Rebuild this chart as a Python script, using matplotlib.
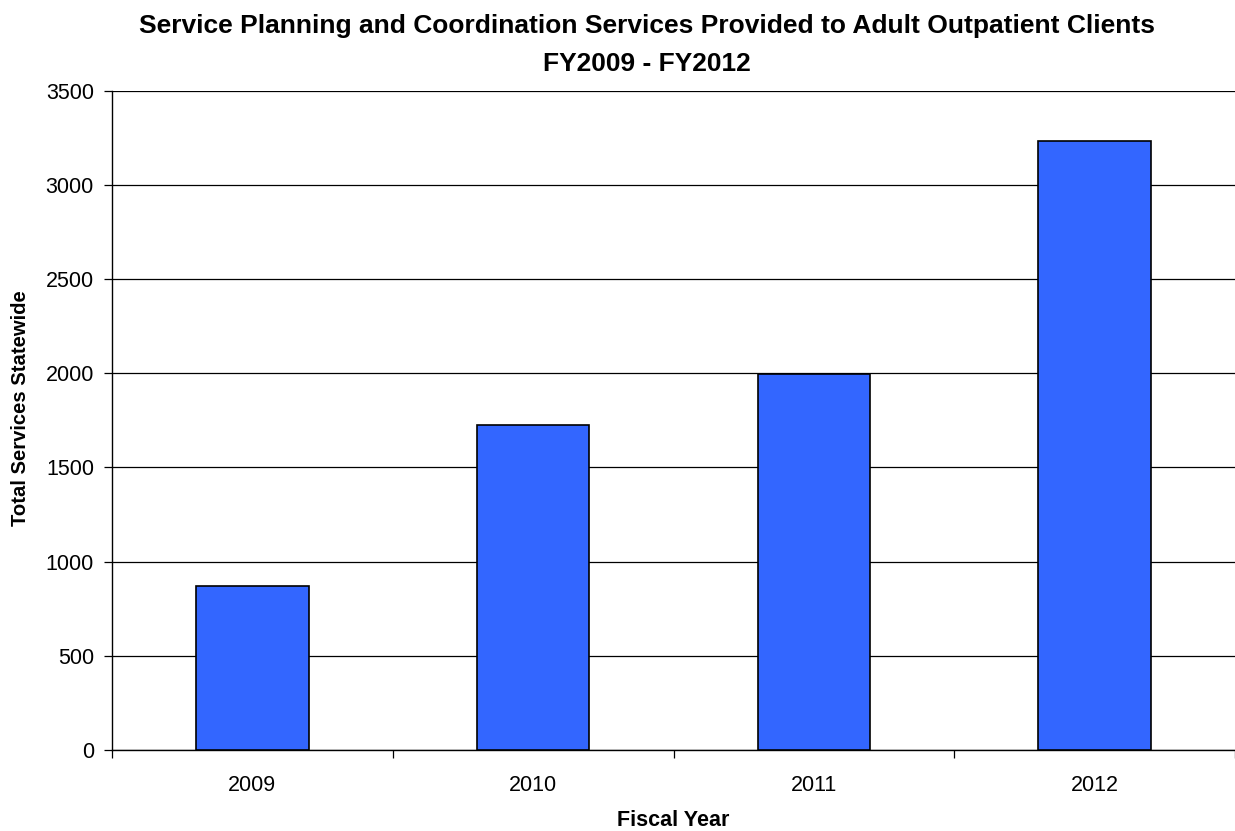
import matplotlib
matplotlib.use("Agg")
import matplotlib.pyplot as plt
import numpy as np

# ── Data ─────────────────────────────────────────────────────────────
years    = ["2009", "2010", "2011", "2012"]
services = [870, 1725, 1995, 3235]

YTICKS = [0, 500, 1000, 1500, 2000, 2500, 3000, 3500]

TITLE_1 = "Service Planning and Coordination Services Provided to Adult Outpatient Clients"
TITLE_2 = "FY2009 - FY2012"

plt.rcParams["font.family"] = ["Liberation Sans", "DejaVu Sans"]

W, H = 1235, 831
fig = plt.figure(figsize=(W / 100, H / 100), dpi=100)
ax = fig.add_axes([112 / W, 1 - 750 / H, (W - 112) / W, (750 - 90.7) / H])

x = np.arange(len(years))
ax.bar(x, services, width=0.4, color="#3366FF", edgecolor="black",
       linewidth=1.2, zorder=3)

ax.set_xlim(-0.5, len(years) - 0.5)
ax.set_ylim(0, 3500)
ax.set_yticks(YTICKS)
ax.set_yticklabels([str(v) for v in YTICKS], fontsize=15.5)
ax.yaxis.grid(True, color="black", linewidth=0.9, zorder=0)
ax.set_axisbelow(True)

# category labels centred, ticks on category boundaries
ax.set_xticks(x)
ax.set_xticklabels(years, fontsize=15.5)
ax.tick_params(axis="x", length=0, pad=18)
ax.set_xticks(np.arange(len(years) + 1) - 0.5, minor=True)
ax.tick_params(axis="x", which="minor", length=6, width=0.9, direction="out")
ax.tick_params(axis="y", length=6, width=0.9, direction="out", pad=7)

for s in ["top", "right"]:
    ax.spines[s].set_visible(False)
ax.spines["left"].set_linewidth(1.0)
ax.spines["bottom"].set_linewidth(1.0)

fig.text(673 / W, 1 - 820 / H, "Fiscal Year", fontsize=15.5,
         fontweight="bold", ha="center", va="center")
fig.text(21 / W, 1 - 408 / H, "Total Services Statewide", fontsize=14.6,
         fontweight="bold", ha="center", va="center", rotation=90)
fig.text(647 / W, 1 - 26 / H, TITLE_1, fontsize=19, fontweight="bold",
         ha="center", va="center")
fig.text(647 / W, 1 - 64 / H, TITLE_2, fontsize=19, fontweight="bold",
         ha="center", va="center")

fig.savefig("out.png", dpi=100, facecolor="white")
plt.close(fig)
